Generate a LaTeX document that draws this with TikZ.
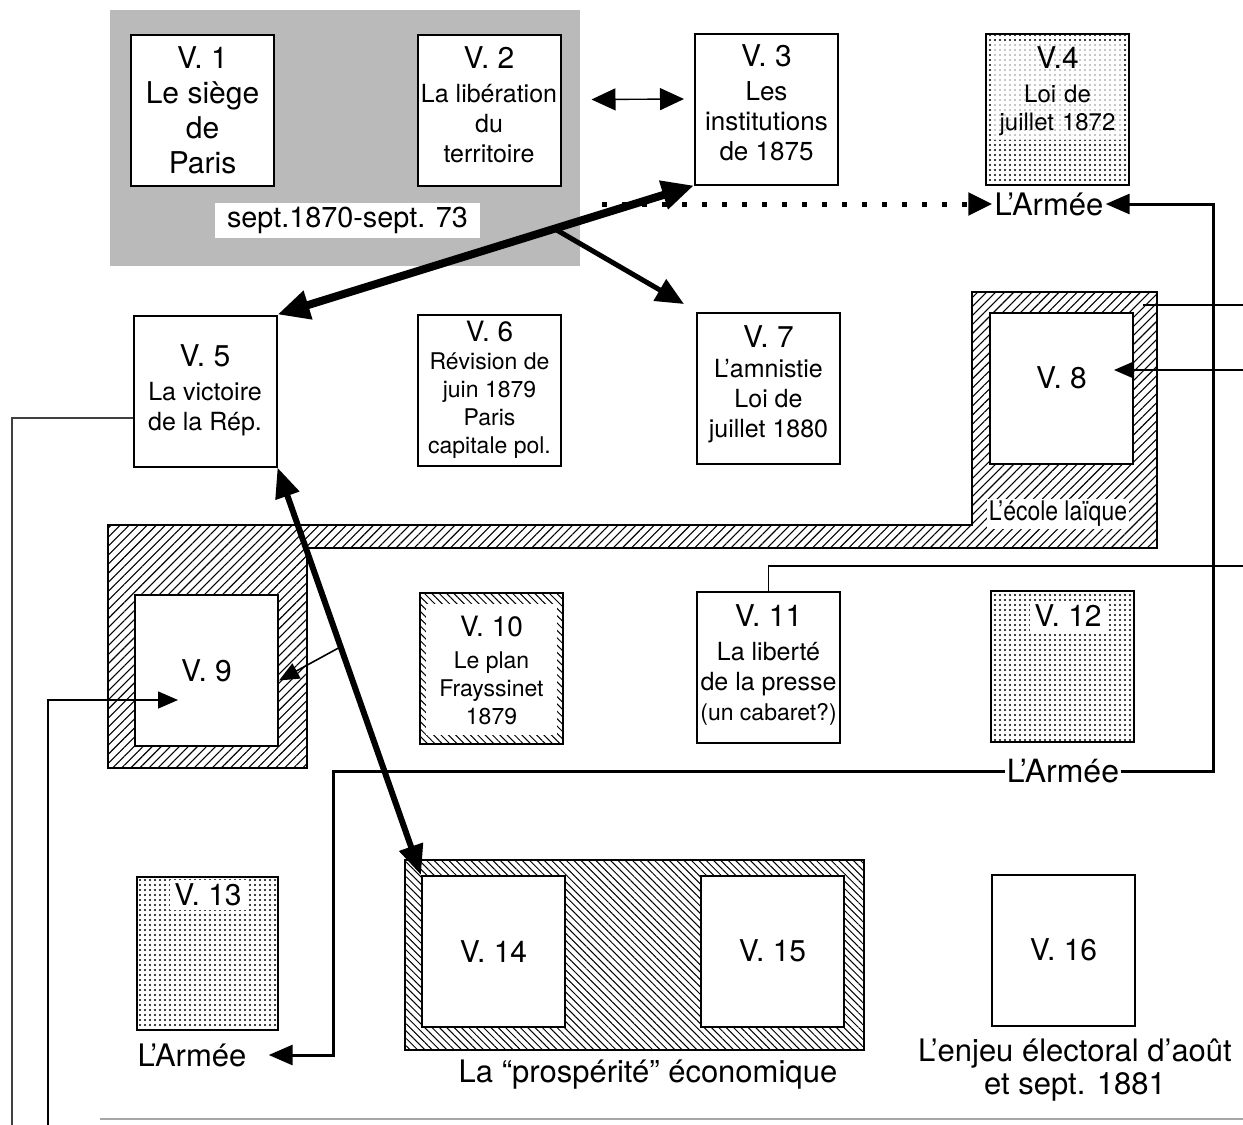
\documentclass[tikz,border=0pt]{standalone}
\usepackage{fontspec}
\setmainfont{TeX Gyre Heros}
\newfontfamily\cndfont[FakeStretch=0.85]{TeX Gyre Heros}
\usetikzlibrary{arrows.meta,patterns.meta,calc}
\newcommand\fsz[2]{\fontsize{#1}{#2}\selectfont}
\newcommand\upby[1]{\\[-#1]\mbox{}}
\begin{document}
\begin{tikzpicture}[x=0.5pt,y=-0.5pt,
  box/.style={draw,line width=1pt,inner sep=0pt,minimum width=71.5pt,minimum height=75.5pt,align=center},
  wbox/.style={box,fill=white},
  dotbox/.style={box,pattern={Dots[radius=0.55pt,distance=2.5pt]}},
  nehatch/.style={pattern={Lines[angle=45,distance=3.2pt,line width=0.55pt]}},
  nwhatch/.style={pattern={Lines[angle=-45,distance=2.6pt,line width=0.5pt]}},
  thin/.style={line width=0.7pt},
  smallhead/.style={-{Triangle[length=10pt,width=8.5pt]}},
  armhead/.style={-{Triangle[length=12pt,width=10pt]}},
  lbl/.style={inner sep=1pt},
]
\useasboundingbox (0,0) rectangle (1243,1125);

% grey period region
\fill[black!27] (110,10) rectangle (580,266);

% hatched frames
\draw[line width=1pt,nehatch] (108,525) -- (972,525) -- (972,292) -- (1157,292) -- (1157,548) -- (307,548) -- (307,768) -- (108,768) -- cycle;
\draw[line width=1pt,nwhatch] (405,860) rectangle (864,1050);

% boxes
\node[wbox,font=\fsz{15}{17.5}] (v1) at (202.5,110.5) {V. 1\\Le siège\\de\\Paris};
\node[wbox,font=\fsz{12.5}{15}] (v2) at (489,110.5) {{\fsz{15}{15}V. 2}\\[2pt]La libération\\du\\territoire\upby{9pt}};
\node[wbox,font=\fsz{13}{15}] (v3) at (766.5,109) {{\fsz{15}{15}V. 3}\\[2pt]Les\\institutions\\de 1875\upby{9pt}};
\node[dotbox] (v4) at (1057.5,109) {};
\node[fill=white,fill opacity=0.7,text opacity=1,font=\fsz{12}{14},align=center,inner sep=2pt,text width=62pt,anchor=north] (v4t) at (1057.5,42) {{\fsz{15}{15}V.4}\\[3pt]Loi de\\juillet 1872};

\node[wbox,font=\fsz{12.5}{15}] (v5) at (205,391) {{\fsz{15}{15}V. 5}\\[2pt]La victoire\\de la Rép.\upby{12pt}};
\node[wbox,font=\fsz{11.5}{14}] (v6) at (489.5,390) {{\fsz{14}{14}V. 6}\\Révision de\\juin 1879\\Paris\\capitale pol.};
\node[wbox,font=\fsz{12.5}{15}] (v7) at (768.5,388.5) {{\fsz{15}{15}V. 7}\\L’amnistie\\Loi de\\juillet 1880\upby{8pt}};
\node[wbox] (v8) at (1061.5,388) {};
\node[font=\fsz{15}{15}] (v8t) at (1061.5,378) {V. 8};

\node[wbox,font=\fsz{15}{15}] (v9) at (206.5,670.5) {V. 9};
\node[box,nwhatch] (v10) at (491.5,668) {};
\fill[white] ($(v10.north west)+(7,12)$) rectangle ($(v10.south east)+(-7,-10)$);
\node[font=\fsz{11.5}{14},align=center] (v10t) at (491.5,670) {{\fsz{14}{14}V. 10}\\[2pt]Le plan\\Frayssinet\\1879};
\node[wbox,font=\fsz{12.5}{15}] (v11) at (768.5,667.5) {{\fsz{15}{15}V. 11}\\[2pt]La liberté\\de la presse\\{\fsz{11.5}{15}(un cabaret?)}\upby{10pt}};
\node[dotbox] (v12) at (1062.5,666) {};
\node[fill=white,font=\fsz{15}{15},inner sep=2pt] (v12t) at (1068,616) {V. 12};

\node[dotbox,minimum width=70.5pt,minimum height=76.5pt] (v13) at (207.5,953.5) {};
\node[fill=white,font=\fsz{15}{15},inner sep=2pt] (v13t) at (208,895) {V. 13};
\node[wbox,font=\fsz{15}{15}] (v14) at (493.5,951.5) {V. 14};
\node[wbox,font=\fsz{15}{15}] (v15) at (772.5,951) {V. 15};
\node[wbox,font=\fsz{15}{15}] (v16) at (1063.5,950) {V. 16};

% labels
\node[fill=white,font=\fsz{14.4}{16},minimum width=132.5pt,minimum height=17.5pt,inner sep=0pt] (period) at (347.5,220.5) {sept.1870-sept. 73};
\node[lbl,font=\fsz{15.5}{16}] (arm1) at (1049,204) {L’Armée};
\node[lbl,fill=white,font=\fsz{16}{16}] (arm2) at (1063,771) {L’Armée};
\node[lbl,font=\fsz{15.5}{16}] (arm3) at (192,1055) {L’Armée};
\node[lbl,fill=white,font=\cndfont\fsz{13.5}{16}] (ecole) at (1058,514) {L’école laïque};
\node[font=\fsz{15.5}{17}] (prosp) at (648,1075) {La “prospérité” économique};
\node[font=\fsz{15.5}{16.5},align=center] (enjeu) at (1075,1070) {L’enjeu électoral d’août\\et sept. 1881};

% connectors
\draw[line width=0.7pt,{Triangle[length=12pt,width=11pt]}-{Triangle[length=12pt,width=11pt]}] ($(v2.east)+(30,-11)$) -- ($(v3.west)+(-10,-10)$);

\draw[line width=4pt,{Triangle[length=16pt,width=14pt]}-{Triangle[length=16pt,width=14pt]}] (v5.north east) -- (v3.south west);
\coordinate (j1) at ($(v5.north east)!0.665!(v3.south west)$);
\draw[line width=2.5pt,-{Triangle[length=14pt,width=12pt]}] (j1) -- ($(v7.north west)+(-12,-8)$);
\coordinate (j0) at ($(v5.north east)!0.78!(v3.south west)$);
\draw[line width=2.5pt,dash pattern=on 2.5pt off 7.5pt,-{Triangle[length=12pt,width=11pt]}] (j0 |- arm1.west) -- (arm1.west);

\draw[line width=3pt,{Triangle[length=15pt,width=12pt]}-{Triangle[length=15pt,width=12pt]}] (v5.south east) -- (v14.north west);
\coordinate (j2) at ($(v5.south east)!0.44!(v14.north west)$);
\draw[line width=0.8pt,smallhead] (j2) -- ($(v9.east)+(0,10)$);

\coordinate (lb) at (12,1125);
\draw[line width=0.6pt,black!75] ($(v5.west)+(0,27)$) -| (lb);
\coordinate (lb2) at (48,1125);
\coordinate (v9in) at (178,700);
\draw[line width=0.8pt,smallhead] (lb2) |- (v9in);

\coordinate (rc) at (1213,771);
\draw[line width=1.5pt,armhead] (arm2.east) -- (rc) |- (arm1.east);
\coordinate (lc) at (333,1055);
\draw[line width=1.5pt,armhead] (arm2.west) -| (lc) -- ($(arm3.east)+(20,0)$);

\coordinate (v8a) at (1143,305);
\coordinate (ra) at (1243,305);
\draw[thin] (v8a) -- (ra);
\coordinate (rb) at (1243,370);
\draw[thin,smallhead] (rb) -- ($(v8.east)+(-20,-18)$);
\coordinate (rcx) at (1243,566);
\draw[thin] (v11.north) |- (rcx);

\coordinate (bl1) at (100,1119);
\coordinate (bl2) at (1243,1119);
\draw[line width=1.2pt,black!35] (bl1) -- (bl2);
\end{tikzpicture}
\end{document}
